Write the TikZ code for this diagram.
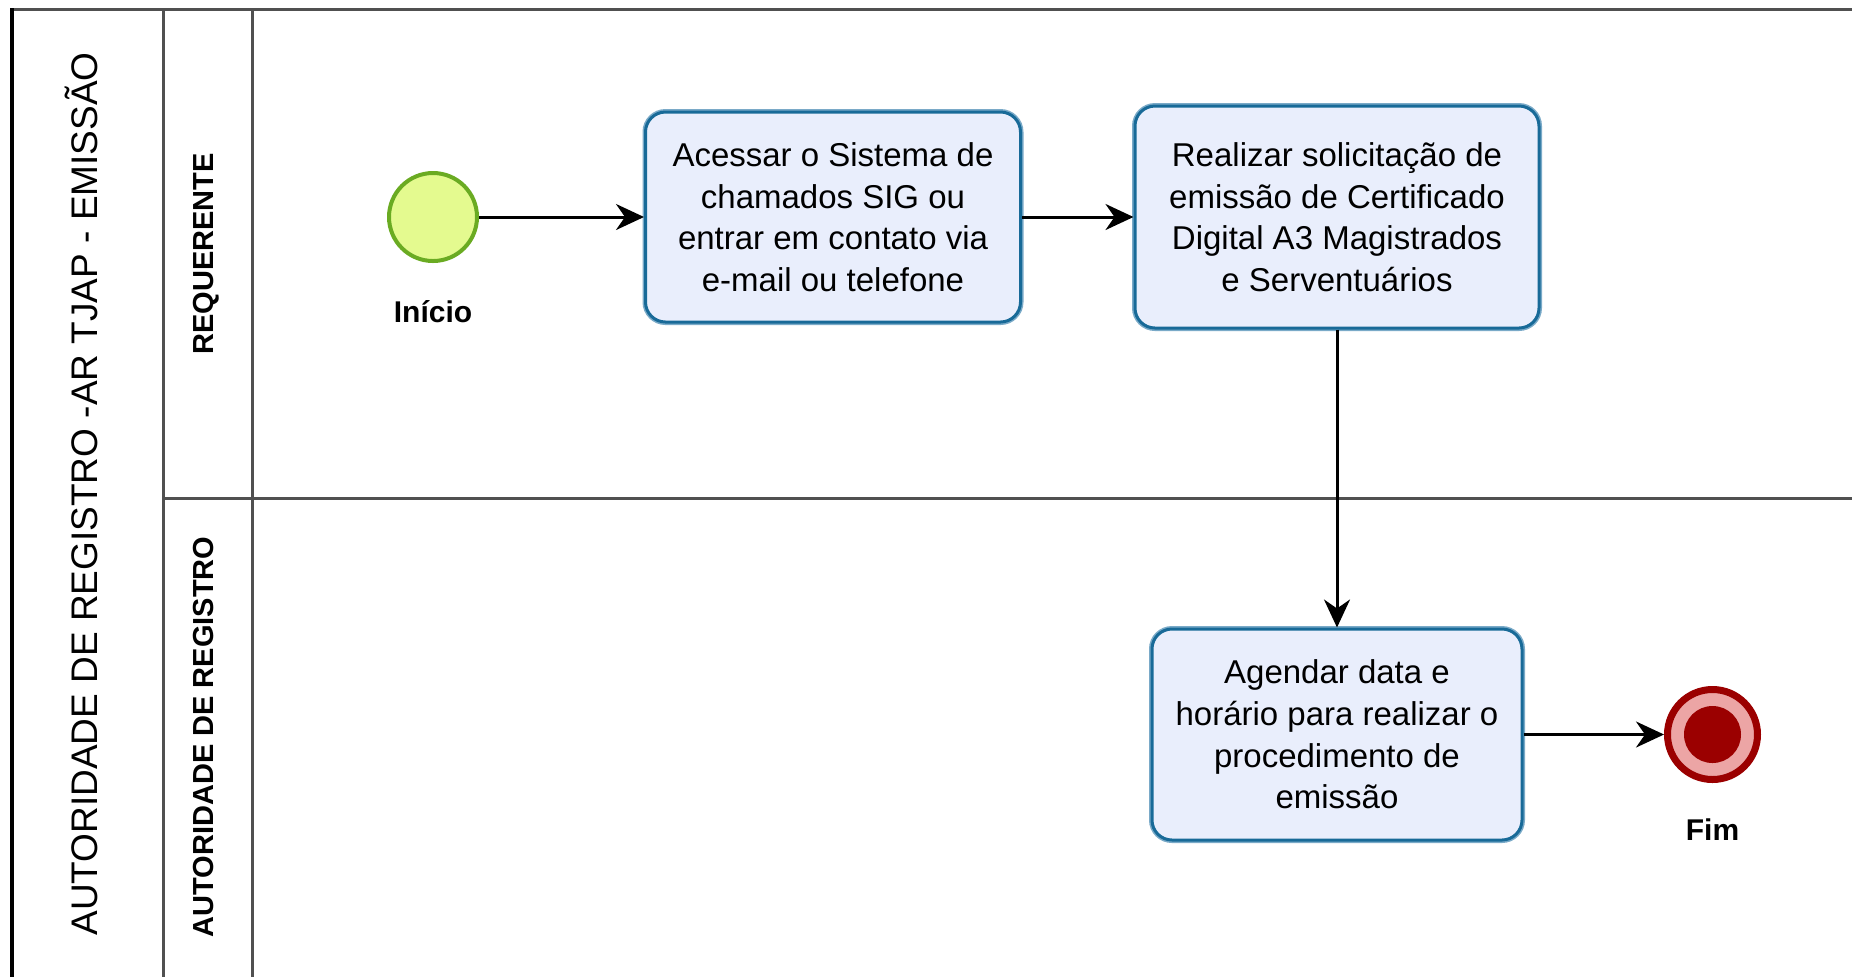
\documentclass[tikz,border=0pt]{standalone}
\usepackage{fontspec}
\setmainfont{Liberation Sans}
\usetikzlibrary{matrix,arrows.meta,positioning}

\definecolor{taskfill}{RGB}{233,238,252}
\definecolor{taskline}{RGB}{24,106,152}
\definecolor{taskhalo}{RGB}{122,170,200}
\definecolor{startfill}{RGB}{228,250,143}
\definecolor{startline}{RGB}{106,171,34}
\definecolor{endred}{RGB}{155,0,0}
\definecolor{endpink}{RGB}{236,165,165}
\definecolor{poolline}{RGB}{80,80,80}

\tikzset{
  task/.style={draw=taskline, line width=1.5pt, fill=taskfill, rounded corners=10pt,
    preaction={draw=taskhalo, line width=3pt}, align=center, inner sep=0pt,
    font=\fontsize{16.5}{20.8}\selectfont},
  startev/.style={circle, draw=startline, line width=2pt, fill=startfill,
    minimum size=44pt, inner sep=0pt},
  endev/.style={circle, draw=endred, line width=3.5pt, fill=endpink,
    minimum size=45pt, inner sep=0pt,
    path picture={\fill[endred] (path picture bounding box.center) circle (14.25pt);}},
  evlabel/.style={anchor=base, inner sep=0pt, font=\bfseries\fontsize{15}{18}\selectfont},
  lane/.style={draw=poolline, line width=1.5pt},
  lanetitle/.style={rotate=90, anchor=base, inner sep=0pt,
    font=\bfseries\fontsize{14.5}{17}\selectfont},
  seqflow/.style={->, line width=1.5pt}
}

\begin{document}
\begin{tikzpicture}[x=0.5pt,y=-0.5pt,>={Stealth[length=14pt,width=13pt,inset=4.5pt]}]
\useasboundingbox[fill=white] (0,0) rectangle (1852,976);

% pool and lanes
\draw[lane] (12,9) -- (1860,9);
\draw[lane] (163,9) -- (163,980);
\draw[lane] (252,9) -- (252,980);
\draw[lane] (163,498) -- (1860,498);
\draw[black, line width=1.8pt] (12,8) -- (12,980);
\node[rotate=90, anchor=base, inner sep=0pt, font=\fontsize{18.5}{22}\selectfont]
  (pool) at (97,494) {AUTORIDADE DE REGISTRO -AR TJAP - EMISSÃO};
\node[lanetitle] (reqlane) at (213,254) {REQUERENTE};
\node[lanetitle] (arlane) at (213,737) {AUTORIDADE DE REGISTRO};

% process
\matrix (proc) [matrix anchor=ini.center, row sep=147.5pt] at (433,217)
{
\node[startev] (ini) {}; &[81.75pt]
\node[task, minimum width=187.5pt, minimum height=105pt] (acessar)
  {Acessar o Sistema de\\chamados SIG ou\\entrar em contato via\\e-mail ou telefone}; &[54.25pt]
\node[task, minimum width=202pt, minimum height=111pt] (solicitar)
  {Realizar solicitação de\\emissão de Certificado\\Digital A3 Magistrados\\e Serventuários}; &[61pt] \\
& &
\node[task, minimum width=185pt, minimum height=105.5pt] (agendar)
  {Agendar data e\\horário para realizar o\\procedimento de\\emissão}; &
\node[endev] (fim) {}; \\
};

\node[below=52.5pt of ini.center, evlabel] (inicio) {Início};
\node[below=53pt of fim.center, evlabel] (fimlbl) {Fim};

\path[seqflow]
(ini) edge (acessar)
(acessar) edge (solicitar)
(solicitar) edge (agendar)
(agendar) edge (fim);
\end{tikzpicture}
\end{document}
